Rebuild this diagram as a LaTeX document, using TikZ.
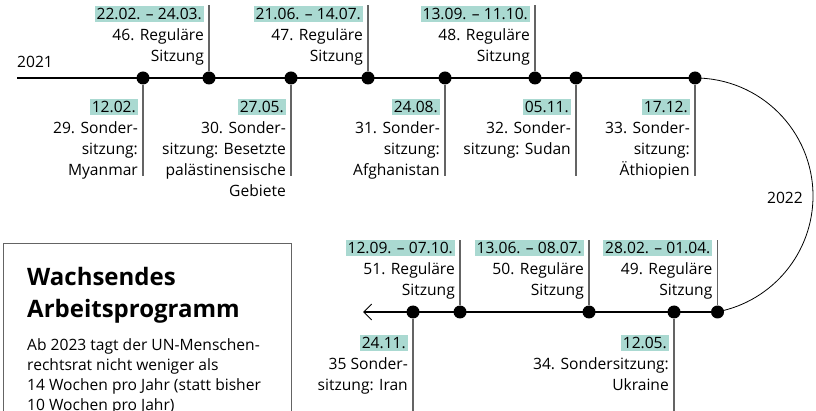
\documentclass[tikz,border=0pt]{standalone}
\usepackage{fontspec}
\setmainfont{Open Sans}
\usetikzlibrary{arrows.meta, positioning}
\definecolor{hlgruen}{RGB}{170,217,209}
\definecolor{tinte}{RGB}{0,0,0}
\definecolor{steg}{RGB}{100,100,100}
\newcommand{\datum}[1]{{\setlength{\fboxsep}{2pt}\colorbox{hlgruen}{#1}}}

\begin{document}
\begin{tikzpicture}[x=1pt, y=-1pt]

	\tikzstyle{punkt} = [circle, fill=black, inner sep=0pt, minimum size=13pt]
	\tikzstyle{zeitlinie} = [draw, black, line width=1.1pt]
	\tikzstyle{bogen} = [draw, black, line width=0.8pt]
	\tikzstyle{stiel} = [draw, steg, line width=1.3pt]
	\tikzstyle{eintrag} = [align=right, inner sep=0pt, anchor=north east, text=tinte, font=\fontsize{15.6}{21}\selectfont]
	\tikzstyle{jahr} = [inner sep=0pt, text=tinte, font=\fontsize{15.6}{19}\selectfont]

	\useasboundingbox (0,0) rectangle (816,411);

	% Zeitleiste 2021
	\coordinate (start) at (17,78);
	\node [punkt] (d29) at (143,78) {};
	\node [punkt] (d46) at (209,78) {};
	\node [punkt] (d30) at (291,78) {};
	\node [punkt] (d47) at (368,78) {};
	\node [punkt] (d31) at (445,78) {};
	\node [punkt] (d48) at (535,78) {};
	\node [punkt] (d32) at (576,78) {};
	\node [punkt] (d33) at (695,78) {};
	\path [zeitlinie] (start) -- (d33.center);
	\path [bogen] (d33.center) arc[start angle=90, end angle=-79, radius=118pt];

	% Zeitleiste 2022
	\coordinate (ende) at (363,312);
	\node [punkt] (d49) at (717.5,312) {};
	\node [punkt] (d34) at (674,312) {};
	\node [punkt] (d50) at (589,312) {};
	\node [punkt] (d51) at (460,312) {};
	\node [punkt] (d35) at (413,312) {};
	\path [zeitlinie, -{Straight Barb[length=8pt, width=16pt, line width=0.9pt]}] (d49.center) -- (ende);

	% Stiele
	\coordinate (s46) at (209,5);
	\coordinate (s47) at (368,5);
	\coordinate (s48) at (535,5);
	\coordinate (s29) at (143,176);
	\coordinate (s30) at (291,176);
	\coordinate (s31) at (445,176);
	\coordinate (s32) at (576,176);
	\coordinate (s33) at (695,176);
	\coordinate (s51) at (460,240);
	\coordinate (s50) at (589,240);
	\coordinate (s49) at (717.5,240);
	\coordinate (s35) at (413,415);
	\coordinate (s34) at (674,415);
	\foreach \n in {46,47,48,29,30,31,32,33,51,50,49,35,34}
		\path [stiel] (d\n) -- (s\n);

	% Jahre
	\node [jahr, anchor=base west] (j2021) at (17,68) {2021};
	\node [jahr, anchor=base east] (j2022) at (803,204) {2022};

	% Sitzungen oben
	\node [eintrag] (l46) at (204,6) {\datum{22.02. – 24.03.}\\46. Reguläre\\Sitzung};
	\node [eintrag] (l47) at (363,6) {\datum{21.06. – 14.07.}\\47. Reguläre\\Sitzung};
	\node [eintrag] (l48) at (530,6) {\datum{13.09. – 11.10.}\\48. Reguläre\\Sitzung};
	\node [eintrag] (l29) at (138,99) {\datum{12.02.}\\29. Sonder-\\sitzung:\\Myanmar};
	\node [eintrag] (l30) at (286,99) {\datum{27.05.}\\30. Sonder-\\sitzung: Besetzte\\palästinensische\\Gebiete};
	\node [eintrag] (l31) at (440,99) {\datum{24.08.}\\31. Sonder-\\sitzung:\\Afghanistan};
	\node [eintrag] (l32) at (571,99) {\datum{05.11.}\\32. Sonder-\\sitzung: Sudan};
	\node [eintrag] (l33) at (690,99) {\datum{17.12.}\\33. Sonder-\\sitzung:\\Äthiopien};

	% Sitzungen unten
	\node [eintrag] (l51) at (455,240) {\datum{12.09. – 07.10.}\\51. Reguläre\\Sitzung};
	\node [eintrag] (l50) at (584,240) {\datum{13.06. – 08.07.}\\50. Reguläre\\Sitzung};
	\node [eintrag] (l49) at (712.5,240) {\datum{28.02. – 01.04.}\\49. Reguläre\\Sitzung};
	\node [eintrag] (l35) at (408,335) {\datum{24.11.}\\35 Sonder-\\sitzung: Iran};
	\node [eintrag] (l34) at (669,335) {\datum{12.05.}\\34. Sondersitzung:\\Ukraine};

	% Infokasten
	\draw [steg, line width=0.9pt] (3,243) rectangle (291,430);
	\node [anchor=north west, align=left, inner sep=0pt, text=black, font=\fontsize{24}{32}\selectfont\bfseries] (titel) at (27,267) {Wachsendes\\Arbeitsprogramm};
	\node [anchor=north west, align=left, inner sep=0pt, text=tinte, font=\fontsize{15.6}{20}\selectfont] (text) at (27,338) {Ab 2023 tagt der UN-Menschen-\\rechtsrat nicht weniger als\\14 Wochen pro Jahr (statt bisher\\10 Wochen pro Jahr)};

\end{tikzpicture}
\end{document}
